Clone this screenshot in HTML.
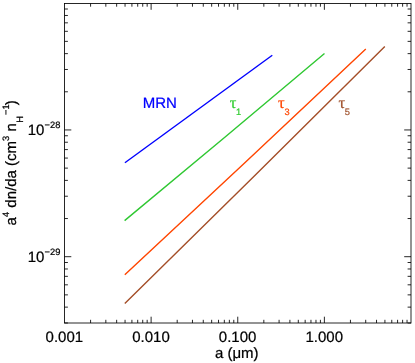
<!DOCTYPE html>
<html><head><meta charset="utf-8"><title>plot</title>
<style>html,body{margin:0;padding:0;background:#fff;}svg{display:block;will-change:transform;}text{font-family:"Liberation Sans",sans-serif;text-rendering:geometricPrecision;stroke-width:0.22;}text.sy{font-family:"Liberation Serif",serif;}</style>
</head><body>
<svg width="415" height="363" viewBox="0 0 415 363">
<rect x="0" y="0" width="415" height="363" fill="#ffffff"/>
<g stroke="#000" stroke-width="0.85" fill="none" stroke-linecap="butt">
<rect x="64.5" y="3.5" width="346.5" height="319.5"/>
<path d="M90.58 323.0V319.80M90.58 3.5V6.70M105.83 323.0V319.80M105.83 3.5V6.70M116.65 323.0V319.80M116.65 3.5V6.70M125.05 323.0V319.80M125.05 3.5V6.70M131.91 323.0V319.80M131.91 3.5V6.70M137.71 323.0V319.80M137.71 3.5V6.70M142.73 323.0V319.80M142.73 3.5V6.70M147.16 323.0V319.80M147.16 3.5V6.70M151.12 323.0V316.70M151.12 3.5V9.80M177.20 323.0V319.80M177.20 3.5V6.70M192.46 323.0V319.80M192.46 3.5V6.70M203.28 323.0V319.80M203.28 3.5V6.70M211.67 323.0V319.80M211.67 3.5V6.70M218.53 323.0V319.80M218.53 3.5V6.70M224.33 323.0V319.80M224.33 3.5V6.70M229.36 323.0V319.80M229.36 3.5V6.70M233.79 323.0V319.80M233.79 3.5V6.70M237.75 323.0V316.70M237.75 3.5V9.80M263.83 323.0V319.80M263.83 3.5V6.70M279.08 323.0V319.80M279.08 3.5V6.70M289.90 323.0V319.80M289.90 3.5V6.70M298.30 323.0V319.80M298.30 3.5V6.70M305.16 323.0V319.80M305.16 3.5V6.70M310.96 323.0V319.80M310.96 3.5V6.70M315.98 323.0V319.80M315.98 3.5V6.70M320.41 323.0V319.80M320.41 3.5V6.70M324.38 323.0V316.70M324.38 3.5V9.80M350.45 323.0V319.80M350.45 3.5V6.70M365.71 323.0V319.80M365.71 3.5V6.70M376.53 323.0V319.80M376.53 3.5V6.70M384.92 323.0V319.80M384.92 3.5V6.70M391.78 323.0V319.80M391.78 3.5V6.70M397.58 323.0V319.80M397.58 3.5V6.70M402.61 323.0V319.80M402.61 3.5V6.70M407.04 323.0V319.80M407.04 3.5V6.70M64.5 322.97H67.90M411.0 322.97H407.60M64.5 307.14H67.90M411.0 307.14H407.60M64.5 294.86H67.90M411.0 294.86H407.60M64.5 284.82H67.90M411.0 284.82H407.60M64.5 276.33H67.90M411.0 276.33H407.60M64.5 268.98H67.90M411.0 268.98H407.60M64.5 262.50H67.90M411.0 262.50H407.60M64.5 256.70H71.30M411.0 256.70H404.20M64.5 218.54H67.90M411.0 218.54H407.60M64.5 196.22H67.90M411.0 196.22H407.60M64.5 180.39H67.90M411.0 180.39H407.60M64.5 168.11H67.90M411.0 168.11H407.60M64.5 158.07H67.90M411.0 158.07H407.60M64.5 149.58H67.90M411.0 149.58H407.60M64.5 142.23H67.90M411.0 142.23H407.60M64.5 135.75H67.90M411.0 135.75H407.60M64.5 129.95H71.30M411.0 129.95H404.20M64.5 91.79H67.90M411.0 91.79H407.60M64.5 69.47H67.90M411.0 69.47H407.60M64.5 53.64H67.90M411.0 53.64H407.60M64.5 41.36H67.90M411.0 41.36H407.60M64.5 31.32H67.90M411.0 31.32H407.60M64.5 22.83H67.90M411.0 22.83H407.60M64.5 15.48H67.90M411.0 15.48H407.60M64.5 9.00H67.90M411.0 9.00H407.60"/>
</g>
<path d="M124.9 162.7Q198.60 109.00 272.3 55.3" fill="none" stroke="#0000ff" stroke-width="1.4"/>
<path d="M124.6 220.6Q224.55 137.95 324.5 53.5" fill="none" stroke="#2fc832" stroke-width="1.4"/>
<path d="M124.8 274.7Q245.30 162.70 365.8 48.9" fill="none" stroke="#ff4500" stroke-width="1.4"/>
<path d="M124.8 303.6Q254.80 175.90 384.8 46.4" fill="none" stroke="#a44e28" stroke-width="1.4"/>
<text x="64.35" y="342.4" font-size="15" text-anchor="middle" fill="#000" stroke="#000">0.001</text>
<text x="150.97" y="342.4" font-size="15" text-anchor="middle" fill="#000" stroke="#000">0.010</text>
<text x="237.60" y="342.4" font-size="15" text-anchor="middle" fill="#000" stroke="#000">0.100</text>
<text x="324.23" y="342.4" font-size="15" text-anchor="middle" fill="#000" stroke="#000">1.000</text>
<text x="236.8" y="357.9" font-size="15" text-anchor="middle" fill="#000" stroke="#000">a (μm)</text>
<text x="27.7" y="134.75" font-size="15" fill="#000" stroke="#000">10</text>
<text x="44.6" y="127.95" font-size="9.3" fill="#000" stroke="#000">−28</text>
<text x="27.7" y="261.50" font-size="15" fill="#000" stroke="#000">10</text>
<text x="44.6" y="254.70" font-size="9.3" fill="#000" stroke="#000">−29</text>
<text x="142.8" y="107.8" font-size="15" fill="#0000ff" stroke="#0000ff">MRN</text>
<text x="229.7" y="107.9" font-size="16.5" class="sy" fill="#32cd32" stroke="#32cd32">τ</text><text x="235.9" y="114.7" font-size="9.3" fill="#32cd32" stroke="#32cd32">1</text>
<text x="278.1" y="107.9" font-size="16.5" class="sy" fill="#ff4500" stroke="#ff4500">τ</text><text x="284.5" y="114.7" font-size="9.3" fill="#ff4500" stroke="#ff4500">3</text>
<text x="338.5" y="107.9" font-size="16.5" class="sy" fill="#a0522d" stroke="#a0522d">τ</text><text x="344.8" y="114.7" font-size="9.3" fill="#a0522d" stroke="#a0522d">5</text>
<text transform="translate(16.30 225.40) rotate(-90)" font-size="15" fill="#000" stroke="#000">a</text>
<text transform="translate(8.70 217.10) rotate(-90)" font-size="9.3" fill="#000" stroke="#000">4</text>
<text transform="translate(16.30 207.70) rotate(-90)" font-size="15" fill="#000" stroke="#000">dn/da (cm</text>
<text transform="translate(8.70 141.10) rotate(-90)" font-size="9.3" fill="#000" stroke="#000">3</text>
<text transform="translate(16.30 131.60) rotate(-90)" font-size="15" fill="#000" stroke="#000">n</text>
<text transform="translate(22.70 122.80) rotate(-90)" font-size="9.3" fill="#000" stroke="#000">H</text>
<text transform="translate(8.70 115.00) rotate(-90)" font-size="9.3" fill="#000" stroke="#000">−1</text>
<text transform="translate(16.30 105.30) rotate(-90)" font-size="15" fill="#000" stroke="#000">)</text>
</svg></body></html>
